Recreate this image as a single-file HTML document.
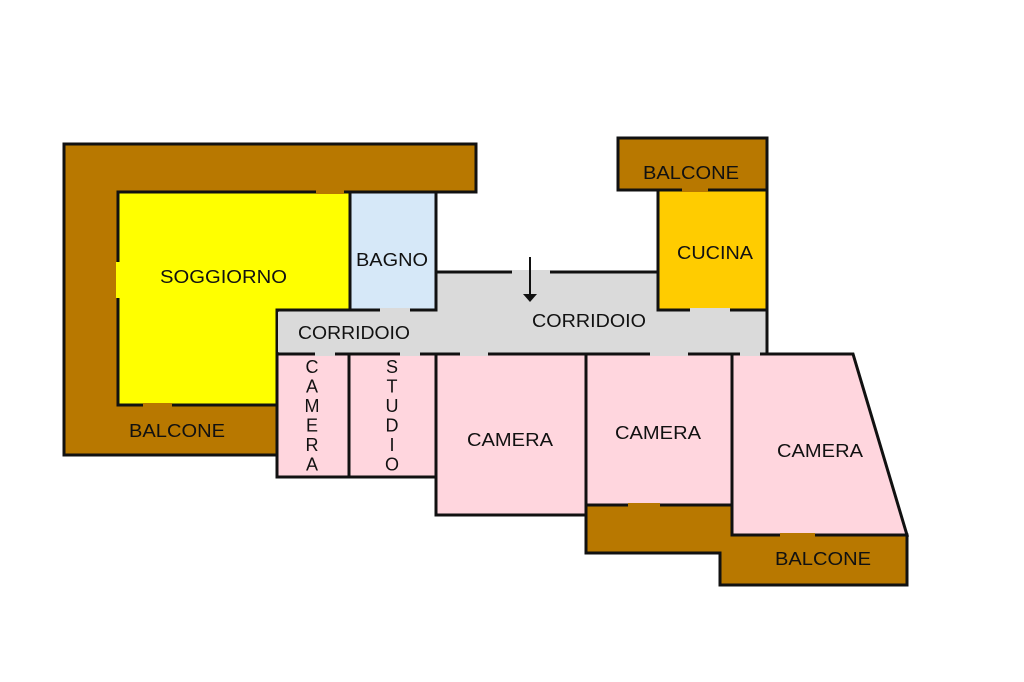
<!DOCTYPE html>
<html><head><style>body{margin:0;background:#fff}svg{display:block}text{font-family:"Liberation Sans",Arial,sans-serif;font-size:18px;fill:#111}</style></head><body>
<svg width="1024" height="682" viewBox="0 0 1024 682">
<g stroke="#111" stroke-width="3" stroke-linejoin="miter">
<polygon points="64,144 476,144 476,192 118,192 118,405 277,405 277,455 64,455" fill="#b87800"/>
<rect x="618" y="138" width="149" height="52" fill="#b87800"/>
<polygon points="586,505 732,505 732,535 907,535 907,585 720,585 720,553 586,553" fill="#b87800"/>
<polygon points="118,192 350,192 350,310 277,310 277,405 118,405" fill="#ffff00"/>
<rect x="350" y="192" width="86" height="118" fill="#d6e8f8"/>
<polygon points="436,272 658,272 658,310 767,310 767,354 277,354 277,310 436,310" fill="#dadada"/>
<rect x="658" y="190" width="109" height="120" fill="#ffcc00"/>
<rect x="277" y="354" width="72" height="123" fill="#ffd6de"/>
<rect x="349" y="354" width="87" height="123" fill="#ffd6de"/>
<rect x="436" y="354" width="150" height="161" fill="#ffd6de"/>
<rect x="586" y="354" width="146" height="151" fill="#ffd6de"/>
<polygon points="732,354 853,354 907,535 732,535" fill="#ffd6de"/>
</g>
<g stroke-width="4">
<line x1="118" y1="262" x2="118" y2="298" stroke="#ffff00"/>
<line x1="280" y1="312" x2="280" y2="352" stroke="#dadada"/>
<line x1="512" y1="272" x2="550" y2="272" stroke="#dadada"/>
<line x1="690" y1="310" x2="730" y2="310" stroke="#dadada"/>
<line x1="380" y1="310" x2="410" y2="310" stroke="#dadada"/>
<line x1="315" y1="354" x2="335" y2="354" stroke="#dadada"/>
<line x1="400" y1="354" x2="420" y2="354" stroke="#dadada"/>
<line x1="460" y1="354" x2="488" y2="354" stroke="#dadada"/>
<line x1="650" y1="354" x2="688" y2="354" stroke="#dadada"/>
<line x1="740" y1="354" x2="760" y2="354" stroke="#dadada"/>
<line x1="682" y1="190" x2="708" y2="190" stroke="#b87800"/>
<line x1="628" y1="505" x2="660" y2="505" stroke="#b87800"/>
<line x1="780" y1="535" x2="815" y2="535" stroke="#b87800"/>
<line x1="143" y1="405" x2="172" y2="405" stroke="#b87800"/>
<line x1="316" y1="192" x2="344" y2="192" stroke="#b87800"/>
</g>
<line x1="530" y1="257" x2="530" y2="296" stroke="#111" stroke-width="2"/>
<polygon points="523,294 537,294 530,302" fill="#111"/>
<text x="160" y="283" textLength="127" lengthAdjust="spacingAndGlyphs">SOGGIORNO</text>
<text x="356" y="266" font-size="17" textLength="72" lengthAdjust="spacingAndGlyphs">BAGNO</text>
<text x="298" y="339" font-size="17" textLength="112" lengthAdjust="spacingAndGlyphs">CORRIDOIO</text>
<text x="532" y="327" font-size="17" textLength="114" lengthAdjust="spacingAndGlyphs">CORRIDOIO</text>
<text x="677" y="259" textLength="76" lengthAdjust="spacingAndGlyphs">CUCINA</text>
<text x="643" y="179" textLength="96" lengthAdjust="spacingAndGlyphs">BALCONE</text>
<text x="129" y="437" textLength="96" lengthAdjust="spacingAndGlyphs">BALCONE</text>
<text x="775" y="565" textLength="96" lengthAdjust="spacingAndGlyphs">BALCONE</text>
<text x="467" y="446" textLength="86" lengthAdjust="spacingAndGlyphs">CAMERA</text>
<text x="615" y="439" textLength="86" lengthAdjust="spacingAndGlyphs">CAMERA</text>
<text x="777" y="457" textLength="86" lengthAdjust="spacingAndGlyphs">CAMERA</text>
<g text-anchor="middle" font-size="17">
<text x="312" y="373">C</text><text x="312" y="392.5">A</text><text x="312" y="412">M</text><text x="312" y="431.5">E</text><text x="312" y="451">R</text><text x="312" y="470.5">A</text>
<text x="392" y="373">S</text><text x="392" y="392.5">T</text><text x="392" y="412">U</text><text x="392" y="431.5">D</text><text x="392" y="451">I</text><text x="392" y="470.5">O</text>
</g>
</svg>
</body></html>
